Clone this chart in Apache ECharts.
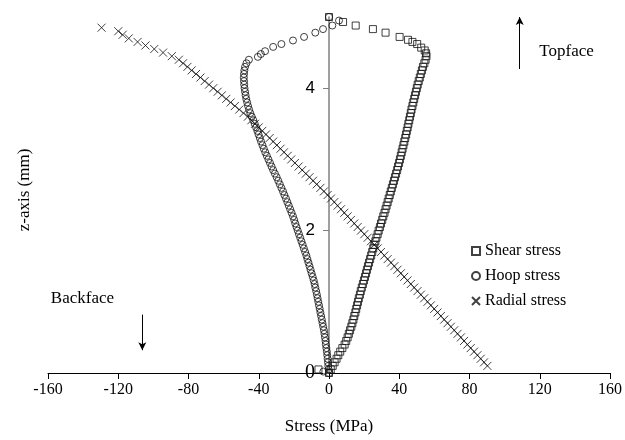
<!DOCTYPE html>
<html>
<head>
<meta charset="utf-8">
<script src="https://cdn.jsdelivr.net/npm/echarts@6/dist/echarts.min.js"></script>
<style>html,body{margin:0;padding:0;background:#fff;}#c{width:625px;height:440px;}</style>
</head>
<body>
<div id="c"></div>
<script>
// Depth through the thickness (mm), shared by the dense part of each series
const depth = [
  0.00, 0.05, 0.10, 0.15, 0.20, 0.25, 0.30, 0.35, 0.40, 0.45,
  0.50, 0.55, 0.60, 0.65, 0.70, 0.75, 0.80, 0.85, 0.90, 0.95,
  1.00, 1.05, 1.10, 1.15, 1.20, 1.25, 1.30, 1.35, 1.40, 1.45,
  1.50, 1.55, 1.60, 1.65, 1.70, 1.75, 1.80, 1.85, 1.90, 1.95,
  2.00, 2.05, 2.10, 2.15, 2.20, 2.25, 2.30, 2.35, 2.40, 2.45,
  2.50, 2.55, 2.60, 2.65, 2.70, 2.75, 2.80, 2.85, 2.90, 2.95,
  3.00, 3.05, 3.10, 3.15, 3.20, 3.25, 3.30, 3.35, 3.40, 3.45,
  3.50, 3.55, 3.60, 3.65, 3.70, 3.75, 3.80, 3.85, 3.90, 3.95,
  4.00, 4.05, 4.10, 4.15, 4.20, 4.25, 4.30, 4.35, 4.40
];
// Shear stress (MPa)
const shearX = [
  0, 1.0, 2.1, 3.2, 4.3, 5.3, 6.4, 7.6, 8.9, 9.8,
  10.6, 11.3, 12.0, 12.7, 13.3, 13.9, 14.4, 15.0, 15.5, 16.0,
  16.5, 17.0, 17.6, 18.1, 18.7, 19.3, 19.9, 20.5, 21.1, 21.6,
  22.2, 22.8, 23.4, 24.0, 24.6, 25.2, 25.8, 26.4, 27.0, 27.7,
  28.3, 29.0, 29.6, 30.3, 30.9, 31.6, 32.2, 32.8, 33.4, 34.0,
  34.6, 35.2, 35.8, 36.4, 37.0, 37.6, 38.2, 38.8, 39.3, 39.9,
  40.4, 40.9, 41.4, 41.9, 42.4, 42.9, 43.4, 43.9, 44.3, 44.8,
  45.2, 45.7, 46.1, 46.6, 47.0, 47.5, 48.0, 48.5, 49.0, 49.5,
  50.0, 50.5, 51.1, 51.7, 52.3, 52.9, 53.5, 54.3, 55.0
];
// Hoop stress (MPa)
const hoopX = [
  0, -0.2, -0.4, -0.6, -0.8, -1.0, -1.2, -1.5, -1.8, -2.0,
  -2.3, -2.6, -2.9, -3.3, -3.7, -4.1, -4.5, -4.9, -5.3, -5.7,
  -6.1, -6.5, -6.9, -7.3, -7.8, -8.2, -8.7, -9.3, -9.9, -10.5,
  -11.1, -11.7, -12.3, -12.9, -13.6, -14.3, -15.0, -15.7, -16.4, -17.1,
  -17.8, -18.5, -19.2, -19.8, -20.5, -21.3, -22.1, -22.9, -23.7, -24.5,
  -25.4, -26.2, -27.1, -28.0, -28.9, -29.8, -30.8, -31.8, -32.7, -33.6,
  -34.5, -35.4, -36.3, -37.1, -37.9, -38.7, -39.4, -40.1, -40.8, -41.5,
  -42.3, -43.1, -44.0, -44.8, -45.5, -46.1, -46.6, -47.1, -47.5, -47.8,
  -48.1, -48.3, -48.4, -48.5, -48.4, -48.2, -47.8, -47.0, -45.6
];
// Radial stress (MPa)
const radialX = [
  null, null, 90.2, 88.3, 86.4, 84.5, 82.6, 80.7, 78.8, 76.9,
  75.1, 73.2, 71.3, 69.4, 67.5, 65.6, 63.7, 61.8, 59.9, 58.0,
  56.1, 54.2, 52.3, 50.4, 48.5, 46.6, 44.7, 42.8, 40.9, 39.0,
  37.2, 35.3, 33.4, 31.5, 29.6, 27.7, 25.8, 23.9, 22.0, 20.1,
  18.2, 16.3, 14.4, 12.5, 10.6, 8.7, 6.8, 4.9, 3.0, 1.1,
  -0.8, -2.9, -4.9, -7.0, -9.1, -11.1, -13.2, -15.3, -17.3, -19.4,
  -21.5, -23.5, -25.6, -27.6, -29.7, -31.8, -33.8, -35.9, -38.0, -40.0,
  -42.1, -44.2, -46.2, -48.7, -51.1, -53.6, -56.0, -58.5, -61.0, -63.4,
  -65.9, -68.3, -70.8, -73.2, -75.7, -78.2, -80.6, -83.1, -85.5
];
// Extra points (near the faces) for each series
const shearExtraZ = [0.05, 4.45, 4.49, 4.53, 4.57, 4.62, 4.65, 4.68, 4.72, 4.78, 4.83, 4.88, 4.93, 5.00];
const shearExtraX = [-6.0, 55.5, 55.3, 54.5, 52.5, 50.2, 47.5, 45.0, 40.2, 32.2, 25.0, 15.2, 8.0, 0];
const hoopExtraZ = [0.02, 4.44, 4.48, 4.52, 4.58, 4.62, 4.67, 4.72, 4.78, 4.83, 4.88, 4.95, 5.00];
const hoopExtraX = [-3.2, -40.5, -38.8, -36.4, -31.8, -27.1, -20.5, -14.2, -7.8, -3.4, 1.9, 5.7, 0];
const radialExtraZ = [4.45, 4.50, 4.55, 4.60, 4.65, 4.70, 4.75, 4.80, 4.85];
const radialExtraX = [-89.5, -94.5, -99.5, -104.5, -109, -114, -117.5, -120, -129.5];

const xTicks = [-160, -120, -80, -40, 0, 40, 80, 120, 160];
const yTicks = [0, 2, 4];
const seriesNames = ['Shear stress', 'Hoop stress', 'Radial stress'];

function pairs(xs, zs) {
  const out = [];
  for (let i = 0; i < xs.length; i++) if (xs[i] !== null) out.push([xs[i], zs[i]]);
  return out;
}
const shearData = pairs(shearX, depth).concat(pairs(shearExtraX, shearExtraZ));
const hoopData = pairs(hoopX, depth).concat(pairs(hoopExtraX, hoopExtraZ));
const radialData = pairs(radialX, depth).concat(pairs(radialExtraX, radialExtraZ));

const SERIF = 'Liberation Serif';
const markerStyle = { color: 'rgba(0,0,0,0)', borderColor: '#111', borderWidth: 1 };
const GRID_LEFT = 48;

const chart = echarts.init(document.getElementById('c'), null, { renderer: 'canvas' });
const option = {
  animation: false,
  backgroundColor: '#fff',
  grid: { left: GRID_LEFT, right: 15, top: 17, bottom: 65 },
  legend: {
    data: seriesNames,
    orient: 'vertical',
    left: 466,
    top: 238,
    itemWidth: 8,
    itemHeight: 8,
    itemGap: 9,
    textStyle: { fontFamily: SERIF, fontSize: 16, color: '#000' }
  },
  xAxis: {
    type: 'value',
    min: xTicks[0],
    max: xTicks[xTicks.length - 1],
    interval: 40,
    axisLine: { onZero: false, lineStyle: { color: '#000', width: 1 } },
    axisTick: { show: true, length: 6, lineStyle: { color: '#000' } },
    axisLabel: { color: '#000', fontFamily: SERIF, fontSize: 16, margin: 9 },
    splitLine: { show: false },
    name: 'Stress (MPa)',
    nameLocation: 'middle',
    nameGap: 45,
    nameTextStyle: { color: '#000', fontFamily: SERIF, fontSize: 17 }
  },
  yAxis: {
    type: 'value',
    min: 0,
    max: 5,
    interval: 1,
    offset: 0,
    axisLine: { show: true, onZero: false, lineStyle: { color: '#808080', width: 1.5 } },
    axisTick: { show: true, customValues: yTicks, length: 6, lineStyle: { color: '#808080' } },
    axisLabel: {
      customValues: yTicks,
      margin: 14,
      color: '#000',
      fontFamily: 'Liberation Sans',
      fontSize: 17,
      formatter: function (v) { return v === 0 ? '{s|0}' : String(v); },
      rich: { s: { fontFamily: SERIF, fontSize: 20, color: '#000' } }
    },
    splitLine: { show: false }
  },
  series: [
    {
      name: 'Hoop stress', type: 'scatter', symbol: 'circle', symbolSize: 7,
      itemStyle: markerStyle, data: hoopData, z: 2
    },
    {
      name: 'Shear stress', type: 'scatter', symbol: 'rect', symbolSize: 7,
      itemStyle: markerStyle, data: shearData, z: 3
    },
    {
      name: 'Radial stress', type: 'scatter', symbol: 'path://M0,0L10,10M10,0L0,10', symbolSize: 8,
      itemStyle: { color: 'rgba(0,0,0,0)', borderColor: '#111', borderWidth: 1 }, data: radialData, z: 4,
      markLine: {
        silent: true,
        symbol: ['none', 'arrow'],
        symbolSize: [6, 8],
        label: { show: false },
        lineStyle: { color: '#000', width: 1, type: 'solid' },
        data: [
          [{ coord: [-106.3, 0.82] }, { coord: [-106.3, 0.32] }],
          [{ coord: [108.6, 4.27] }, { coord: [108.6, 5.0] }]
        ]
      }
    }
  ]
};
chart.setOption(option);

// Place the y axis (line, ticks, labels) at stress = 0
const zeroPx = chart.convertToPixel({ gridIndex: 0 }, [0, 0])[0];
const backPos = chart.convertToPixel({ gridIndex: 0 }, [-140.4, 1.05]);
const topPos = chart.convertToPixel({ gridIndex: 0 }, [135.3, 4.52]);
chart.setOption({
  yAxis: { offset: -(zeroPx - GRID_LEFT) },
  graphic: [
    { type: 'text', x: backPos[0], y: backPos[1],
      style: { text: 'Backface', fontFamily: SERIF, fontSize: 17, fill: '#000', align: 'center', verticalAlign: 'middle' } },
    { type: 'text', x: topPos[0], y: topPos[1],
      style: { text: 'Topface', fontFamily: SERIF, fontSize: 17, fill: '#000', align: 'center', verticalAlign: 'middle' } },
    { type: 'text', x: 25, y: 190, rotation: Math.PI / 2,
      style: { text: 'z-axis (mm)', fontFamily: SERIF, fontSize: 17, fill: '#000', align: 'center', verticalAlign: 'middle' } }
  ]
});
</script>
</body>
</html>
